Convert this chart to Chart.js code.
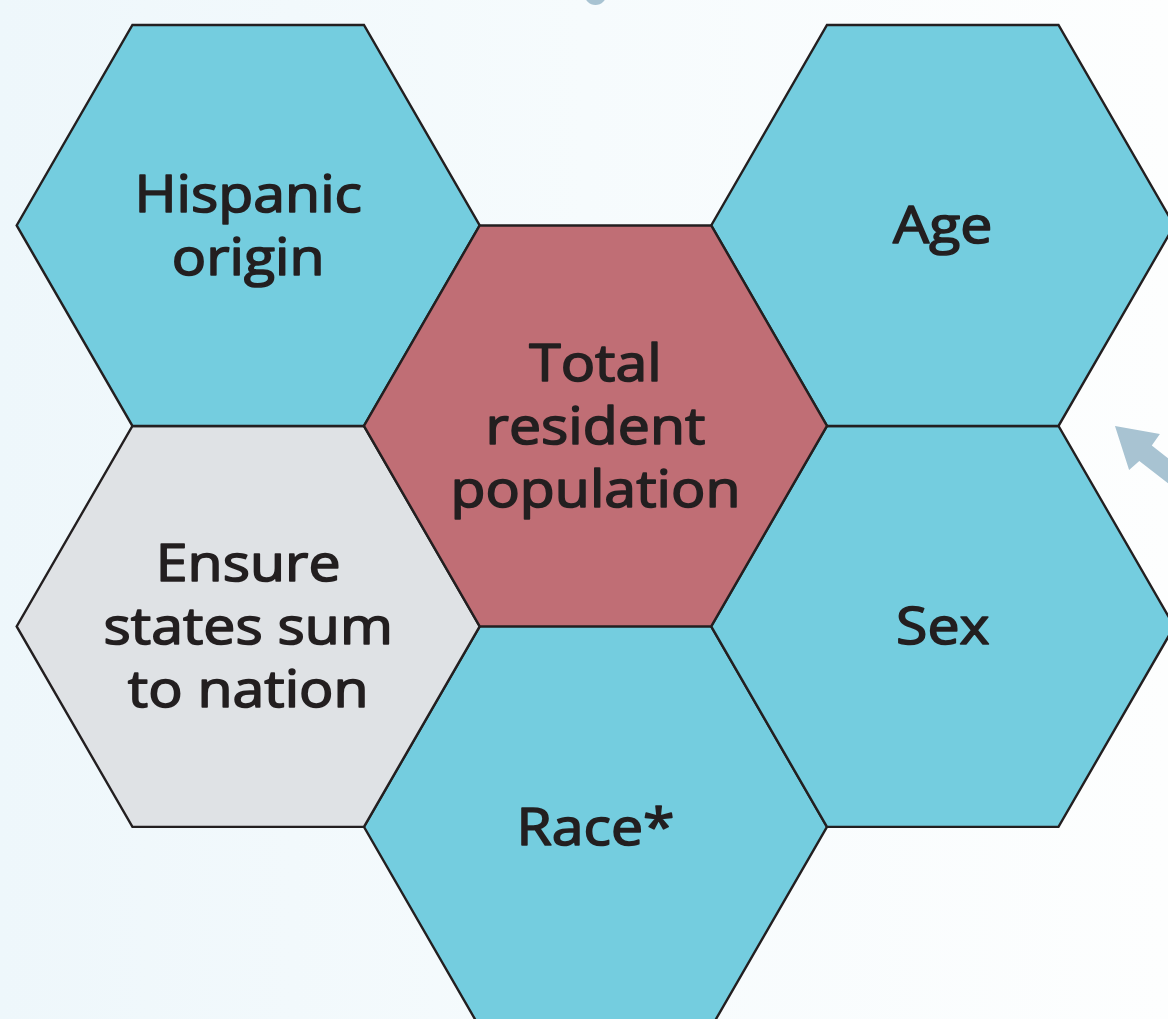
<!DOCTYPE html>
<html>
<head>
<meta charset="utf-8">
<script src="https://cdn.jsdelivr.net/npm/chart.js@4.4.1/dist/chart.umd.min.js"></script>
<style>
    html, body { margin: 0; padding: 0; background: #fff; }
    #wrap { width: 1168px; height: 1019px; position: relative; }
</style>
</head>
<body>
<div id="wrap"><canvas id="hexChart"></canvas></div>
<script>
    "use strict";

    // Hexagon cells (hex side = 1 data unit, flat-top layout)
    const cellLabels = [
        ["Total", "resident", "population"],
        ["Hispanic", "origin"],
        ["Age"],
        ["Ensure", "states sum", "to nation"],
        ["Sex"],
        ["Race*"]
    ];
    const cellCol = [0, -1.5, 1.5, -1.5, 1.5, 0];
    const cellRow = [0, 0.866, 0.866, -0.866, -0.866, -1.732];
    const cellKind = ["total", "attribute", "attribute", "constraint", "attribute", "attribute"];

    // Decorative arrow pieces peeking in at the edges
    const arrowX = [2.244, 2.438, 2.403, 2.835, 2.781, 2.349, 2.305, 2.244];
    const arrowY = [0, -0.035, -0.085, -0.422, -0.488, -0.151, -0.190, 0];
    const dotX = [0];
    const dotY = [1.866];

    const kindColor = {
        total: "#C06E75",
        attribute: "#74CDDF",
        constraint: "#DFE2E5"
    };
    const ink = "#231F20";
    const decoColor = "#A8C3D2";

    // hexagon outline around a centre, in data units
    var hexPoints = function (cx, cy) {
        var pts = [];
        for (var k = 0; k <= 6; k++) {
            var a = Math.PI / 3 * k;
            pts.push({ x: cx + Math.cos(a), y: cy + Math.sin(a) });
        }
        return pts;
    };

    var datasets = cellCol.map(function (c, i) {
        return {
            type: "line",
            data: hexPoints(c, cellRow[i]),
            backgroundColor: kindColor[cellKind[i]],
            borderColor: ink,
            borderWidth: 2.4,
            fill: "shape",
            pointRadius: 0,
            tension: 0,
            borderJoinStyle: "miter"
        };
    });

    datasets.push({
        type: "line",
        data: arrowX.map(function (x, i) { return { x: x, y: arrowY[i] }; }),
        backgroundColor: decoColor,
        borderColor: decoColor,
        borderWidth: 0,
        fill: "shape",
        pointRadius: 0,
        tension: 0
    });

    datasets.push({
        type: "scatter",
        data: dotX.map(function (x, i) { return { x: x, y: dotY[i] }; }),
        backgroundColor: decoColor,
        borderWidth: 0,
        pointRadius: 11,
        showLine: false
    });

    // Background wash
    var backdrop = {
        id: "backdrop",
        beforeDraw: function (chart) {
            var ctx = chart.ctx;
            var g = ctx.createLinearGradient(0, 0, chart.width, 0);
            g.addColorStop(0, "#EEF7FB");
            g.addColorStop(0.5, "#F6FBFD");
            g.addColorStop(1, "#FDFEFE");
            ctx.save();
            ctx.fillStyle = g;
            ctx.fillRect(0, 0, chart.width, chart.height);
            ctx.restore();
        }
    };

    // Cell captions (stretched a bit and thickened to look like a medium geometric face)
    var captions = {
        id: "captions",
        afterDatasetsDraw: function (chart) {
            var ctx = chart.ctx;
            var xs = chart.scales.x, ys = chart.scales.y;
            var lineGap = 63;
            var stretch = 1.1;
            ctx.save();
            ctx.fillStyle = ink;
            ctx.strokeStyle = ink;
            ctx.lineWidth = 1.6;
            ctx.lineJoin = "round";
            ctx.font = '52px "Open Sans"';
            ctx.textAlign = "center";
            ctx.textBaseline = "alphabetic";
            cellLabels.forEach(function (lines, i) {
                var px = xs.getPixelForValue(cellCol[i]);
                var py = ys.getPixelForValue(cellRow[i]);
                var first = py + 18 - (lines.length - 1) * lineGap / 2;
                lines.forEach(function (t, j) {
                    ctx.save();
                    ctx.translate(px, first + j * lineGap);
                    ctx.scale(stretch, 1);
                    ctx.fillText(t, 0, 0);
                    ctx.strokeText(t, 0, 0);
                    ctx.restore();
                });
            });
            ctx.restore();
        }
    };

    var chart = new Chart(document.getElementById("hexChart"), {
        type: "line",
        data: { datasets: datasets },
        options: {
            responsive: true,
            maintainAspectRatio: false,
            animation: false,
            layout: { padding: 0, autoPadding: false },
            plugins: {
                legend: { display: false },
                tooltip: { enabled: false }
            },
            scales: {
                x: { type: "linear", min: -2.572, max: 2.473, display: false },
                y: { type: "linear", min: -2.562, max: 1.840, display: false }
            }
        },
        plugins: [backdrop, captions]
    });
</script>
</body>
</html>
